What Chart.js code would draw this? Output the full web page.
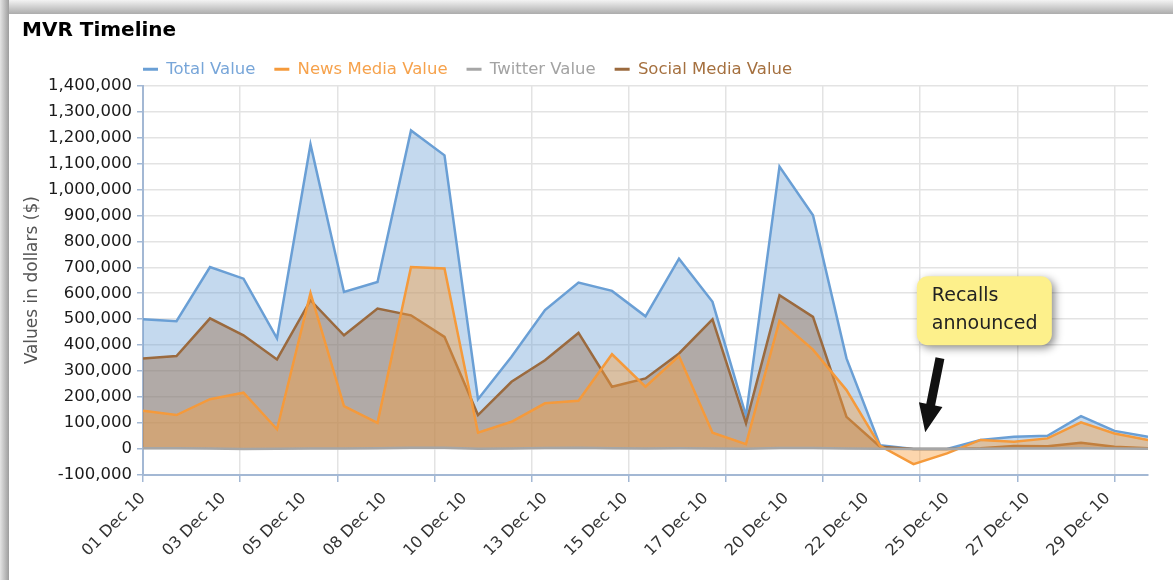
<!DOCTYPE html>
<html>
<head>
<meta charset="utf-8">
<script src="https://cdn.jsdelivr.net/npm/chart.js@4/dist/chart.umd.min.js"></script>
<style>
  html, body { margin: 0; padding: 0; background: #fff; }
  #wrap { position: relative; width: 1173px; height: 580px; overflow: hidden; }
  .shade-top { position: absolute; left: 0; top: 0; width: 1173px; height: 14px;
    background: linear-gradient(to bottom, #f3f3f3, #acacac); }
  .shade-left { position: absolute; left: 0; top: 0; width: 9px; height: 580px;
    background: linear-gradient(to right, #e4e4e4, #9d9d9d); }
  canvas { position: absolute; left: 0; top: 0; }
</style>
</head>
<body>
<div id="wrap">
  <div class="shade-top"></div>
  <div class="shade-left"></div>
  <canvas id="mvrChart" width="1173" height="580"></canvas>
</div>
<script>
// one entry per day, 01 Dec 2010 .. 31 Dec 2010
const days = Array.from({ length: 31 }, (_, i) => String(i + 1).padStart(2, '0') + ' Dec 10');

const totalValue  = [500000, 492000, 701000, 656000, 426000, 1173000, 605000, 643000, 1227000, 1131000,
                     192000, 355000, 535000, 641000, 609000, 511000, 733000, 567000, 128000, 1088000,
                     900000, 349000, 15000, 0, 0, 35000, 47000, 51000, 127000, 70000, 47000];
const newsValue   = [147000, 131000, 192000, 217000, 76000, 601000, 165000, 101000, 701000, 695000,
                     63000, 105000, 176000, 186000, 365000, 240000, 358000, 63000, 19000, 494000,
                     383000, 227000, 12000, -58000, -17000, 35000, 28000, 41000, 103000, 60000, 35000];
const twitterValue = [3000, 3000, 2000, 0, 1000, 2000, 2000, 3000, 5000, 5000,
                      1000, 2000, 4000, 5000, 3000, 2000, 3000, 2000, 1000, 4000,
                      4000, 2000, 1000, 0, 0, 1000, 2000, 2000, 3000, 2000, 1000];
const socialValue = [349000, 358000, 503000, 438000, 345000, 573000, 438000, 541000, 515000, 432000,
                     131000, 259000, 342000, 447000, 240000, 272000, 368000, 499000, 99000, 592000,
                     509000, 124000, 9000, 0, 0, 3000, 12000, 11000, 24000, 9000, 3000];

const yTicksMin = -100000;
const yTicksMax = 1400000;
const yStep = 100000;

const labelStep = 2.4;  // date labels every 2.4 days
const gridStep = 2.9;   // vertical grid lines / tick marks

const legendTextColors = ['#78a6d9', '#f6a24c', '#a3a3a3', '#a5703f'];

const callout = {
  lines: ['Recalls', 'announced'],
  box: { x0: 23.1, x1: 27.13, y0: 665000, y1: 400000 },
  arrowFrom: { x: 23.79, y: 350000 },
  arrowTo: { x: 23.35, y: 65000 }
};

function toPoints(values) {
  return values.map((v, i) => ({ x: i, y: v }));
}

function onStep(v, step) {
  const r = v / step;
  return Math.abs(r - Math.round(r)) < 1e-6;
}

const calloutPlugin = {
  id: 'calloutPlugin',
  afterLayout(chart) {
    // legend starts at the plot's left edge, a bit lower than the layout puts it
    const pad = chart.legend.options.labels.padding;
    chart.legend.left = chart.chartArea.left - pad;
    chart.legend.top += 2;
    chart.titleBlock.top += 1;
  },
  afterDraw(chart) {
    const { ctx, scales: { x, y } } = chart;
    const bx0 = x.getPixelForValue(callout.box.x0);
    const bx1 = x.getPixelForValue(callout.box.x1);
    const by0 = y.getPixelForValue(callout.box.y0);
    const by1 = y.getPixelForValue(callout.box.y1);

    ctx.save();
    ctx.shadowColor = 'rgba(0,0,0,0.45)';
    ctx.shadowBlur = 8;
    ctx.shadowOffsetX = 3;
    ctx.shadowOffsetY = 3;
    ctx.beginPath();
    ctx.roundRect(bx0, by0, bx1 - bx0, by1 - by0, 11);
    ctx.fillStyle = '#fdf08b';
    ctx.fill();
    ctx.restore();

    ctx.save();
    ctx.fillStyle = '#222';
    ctx.font = '19px "DejaVu Sans"';
    ctx.textBaseline = 'middle';
    ctx.fillText(callout.lines[0], bx0 + 15, by0 + 20);
    ctx.fillText(callout.lines[1], bx0 + 15, by0 + 48);
    ctx.restore();

    // arrow
    const tx = x.getPixelForValue(callout.arrowFrom.x), ty = y.getPixelForValue(callout.arrowFrom.y);
    const hx = x.getPixelForValue(callout.arrowTo.x), hy = y.getPixelForValue(callout.arrowTo.y);
    const len = Math.hypot(hx - tx, hy - ty);
    const dx = (hx - tx) / len, dy = (hy - ty) / len;
    const nx = -dy, ny = dx;
    const headLen = 28, headHalf = 12, shaftHalf = 4.5;
    const bx = hx - dx * headLen, by = hy - dy * headLen;
    ctx.save();
    ctx.fillStyle = '#111';
    ctx.beginPath();
    ctx.moveTo(tx + nx * shaftHalf, ty + ny * shaftHalf);
    ctx.lineTo(bx + nx * shaftHalf, by + ny * shaftHalf);
    ctx.lineTo(bx + nx * headHalf, by + ny * headHalf);
    ctx.lineTo(hx, hy);
    ctx.lineTo(bx - nx * headHalf, by - ny * headHalf);
    ctx.lineTo(bx - nx * shaftHalf, by - ny * shaftHalf);
    ctx.lineTo(tx - nx * shaftHalf, ty - ny * shaftHalf);
    ctx.closePath();
    ctx.fill();
    ctx.restore();
  }
};

Chart.defaults.font.family = '"DejaVu Sans", Verdana, sans-serif';

const ctx = document.getElementById('mvrChart').getContext('2d');
const mvrChart = new Chart(ctx, {
  type: 'line',
  data: {
    datasets: [{
      label: 'Total Value',
      data: toPoints(totalValue),
      borderColor: '#6a9fd5',
      backgroundColor: 'rgba(108,160,212,0.4)',
      fill: 'origin',
      order: 4
    }, {
      label: 'News Media Value',
      data: toPoints(newsValue),
      borderColor: '#f59a3b',
      backgroundColor: 'rgba(247,157,60,0.42)',
      fill: 'origin',
      order: 2
    }, {
      label: 'Twitter Value',
      data: toPoints(twitterValue),
      borderColor: '#a6a6a6',
      backgroundColor: 'rgba(160,160,160,0.3)',
      fill: 'origin',
      order: 1
    }, {
      label: 'Social Media Value',
      data: toPoints(socialValue),
      borderColor: '#9b6a3e',
      backgroundColor: 'rgba(150,100,60,0.4)',
      fill: 'origin',
      order: 3
    }]
  },
  options: {
    responsive: false,
    animation: false,
    elements: {
      point: { radius: 0 },
      line: { tension: 0, borderWidth: 2.5 }
    },
    layout: { padding: { left: 22, right: 25, top: 0, bottom: 0 } },
    plugins: {
      title: {
        display: true,
        text: 'MVR Timeline',
        align: 'start',
        color: '#000',
        font: { size: 20, weight: 'bold', lineHeight: 1 },
        padding: { top: 20, bottom: 0 }
      },
      legend: {
        display: true,
        position: 'top',
        align: 'start',
        labels: {
          boxWidth: 15,
          boxHeight: 3,
          padding: 19,
          font: { size: 16.5 },
          sort: (a, b) => a.datasetIndex - b.datasetIndex,
          generateLabels(chart) {
            const items = Chart.defaults.plugins.legend.labels.generateLabels(chart);
            items.forEach(it => {
              const ds = chart.data.datasets[it.datasetIndex];
              it.fillStyle = ds.borderColor;
              it.strokeStyle = ds.borderColor;
              it.lineWidth = 0;
              it.fontColor = legendTextColors[it.datasetIndex];
            });
            return items;
          }
        }
      },
      tooltip: { enabled: false }
    },
    scales: {
      x: {
        type: 'linear',
        min: 0,
        max: days.length - 1,
        afterBuildTicks(axis) {
          const vals = [];
          for (let v = 0; v <= days.length - 1 + 1e-9; v += gridStep) vals.push(+v.toFixed(3));
          for (let v = labelStep; v <= days.length - 1 + 1e-9; v += labelStep) vals.push(+v.toFixed(3));
          vals.sort((a, b) => a - b);
          axis.ticks = vals.map(v => ({ value: v }));
        },
        afterFit(scale) { scale.height = 105; },
        ticks: {
          autoSkip: false,
          maxRotation: 45,
          minRotation: 45,
          padding: 7,
          color: '#333',
          font: { size: 16 },
          callback: v => onStep(v, labelStep) ? days[Math.floor(v + 1e-6)] : ''
        },
        grid: {
          color: c => onStep(c.tick.value, gridStep) ? '#e3e3e3' : 'transparent',
          tickColor: c => onStep(c.tick.value, gridStep) ? '#a3b8d4' : 'transparent',
          lineWidth: 1.5,
          tickLength: 7
        },
        border: { color: '#a3b8d4', width: 2 }
      },
      y: {
        min: yTicksMin,
        max: yTicksMax,
        afterFit(scale) { scale.width = 121; },
        ticks: {
          stepSize: yStep,
          color: '#1a1a1a',
          padding: 5,
          font: { size: 16.5 },
          callback: v => v.toLocaleString('en-US')
        },
        grid: {
          color: '#e3e3e3',
          lineWidth: 1.5,
          tickColor: '#a3b8d4',
          tickLength: 6
        },
        border: { color: '#a3b8d4', width: 2 },
        title: {
          display: true,
          text: 'Values in dollars ($)',
          color: '#555',
          font: { size: 17 },
          padding: { top: 0, bottom: 4 }
        }
      }
    }
  },
  plugins: [calloutPlugin]
});
</script>
</body>
</html>
